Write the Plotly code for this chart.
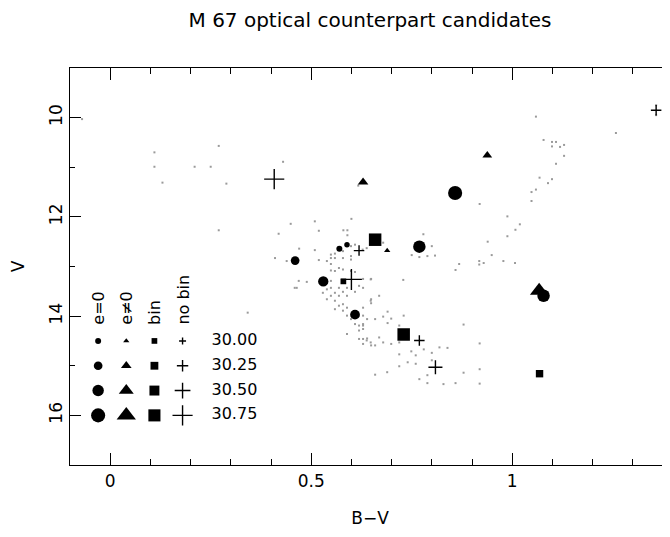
import plotly.graph_objects as go

# ---------------- data ----------------
# Cluster colour-magnitude diagram (background stars)
CMD_BV = [-0.070, 0.110, 0.110, 0.130, 0.210, 0.250, 0.270, 0.289, 0.430, 0.617,
          0.270, 0.419, 0.449, 0.509, 0.519, 0.600, 0.580, 0.590, 0.590, 0.470,
          0.509, 0.410, 1.059, 1.258, 1.078, 1.099, 1.109, 1.099, 1.119, 1.129,
          1.129, 1.109, 1.068, 1.089, 1.099, 1.059, 1.048, 1.048, 0.919, 0.988,
          1.019, 1.008, 0.988, 0.939, 0.949, 0.779, 0.800, 1.376, 1.358, 1.358,
          0.750, 0.769, 0.789, 0.808, 0.978, 1.007, 0.918, 0.918, 0.929, 0.868,
          0.859, 0.729, 0.679, 0.629, 0.649, 0.629, 0.669, 0.649, 0.649, 0.629,
          0.690, 0.629, 0.639, 0.659, 0.679, 0.699, 0.690, 0.730, 0.879, 0.629,
          0.629, 0.619, 0.639, 0.649, 0.659, 0.669, 0.679, 0.699, 0.719, 0.719,
          0.719, 0.749, 0.719, 0.740, 0.760, 0.760, 0.780, 0.800, 0.800, 0.819,
          0.839, 0.769, 0.789, 0.789, 0.829, 0.859, 0.879, 0.919, 0.919, 0.919,
          0.659, 0.689, 1.387, 0.439, 0.519, 0.539, 0.549, 0.549, 0.559, 0.559,
          0.579, 0.579, 0.599, 0.599, 0.599, 0.609, 0.628, 0.638, 0.549, 0.549,
          0.559, 0.569, 0.579, 0.599, 0.609, 0.549, 0.549, 0.549, 0.559, 0.569,
          0.579, 0.589, 0.589, 0.609, 0.619, 0.648, 0.469, 0.489, 0.459, 0.529,
          0.539, 0.539, 0.559, 0.569, 0.579, 0.559, 0.569, 0.579, 0.589, 0.589,
          0.599, 0.589, 0.609, 0.619, 0.629, 0.619, 0.629, 0.638, 0.629, 0.648,
          0.648, 0.342, 0.464]
CMD_V = [10.03, 10.70, 10.99, 11.31, 10.99, 10.99, 10.57, 11.33, 10.89, 11.37,
         12.27, 12.34, 12.14, 12.09, 12.28, 12.04, 12.27, 12.27, 12.37, 12.64,
         12.67, 12.83, 9.98, 10.31, 10.45, 10.49, 10.49, 10.58, 10.59, 10.55,
         10.77, 10.93, 11.21, 11.32, 11.24, 11.45, 11.50, 11.68, 11.74, 11.99,
         12.15, 12.26, 12.39, 12.50, 12.77, 12.35, 12.59, 9.72, 9.75, 9.95,
         12.77, 12.81, 12.79, 12.78, 12.89, 12.93, 12.89, 12.96, 12.93, 12.95,
         13.07, 13.27, 12.52, 13.25, 13.25, 13.43, 13.59, 13.66, 13.74, 13.83,
         13.91, 13.99, 14.06, 14.06, 14.01, 14.05, 14.14, 13.99, 14.17, 14.19,
         14.26, 14.46, 14.45, 14.59, 14.59, 14.43, 14.53, 14.56, 14.53, 14.19,
         14.77, 14.71, 15.01, 14.93, 14.79, 14.96, 14.67, 14.74, 14.89, 14.63,
         14.64, 15.27, 15.19, 15.35, 15.37, 15.35, 15.14, 14.55, 15.07, 15.36,
         15.18, 15.13, 12.99, 12.89, 12.87, 12.89, 12.76, 12.83, 12.74, 12.83,
         12.69, 12.83, 12.59, 12.79, 12.86, 12.56, 12.66, 12.63, 12.95, 13.08,
         13.09, 13.03, 13.06, 13.09, 13.11, 13.29, 13.43, 13.59, 13.53, 13.43,
         13.51, 13.43, 13.59, 13.51, 13.39, 13.26, 13.29, 13.31, 13.43, 13.53,
         13.46, 13.66, 13.69, 13.59, 13.76, 13.86, 13.79, 13.89, 13.83, 13.99,
         14.06, 14.36, 14.16, 14.19, 14.16, 14.29, 14.46, 14.49, 14.56, 14.53,
         13.69, 13.93, 13.43]

# Candidates: e=0 (circles)
E0_BV = [0.858, 0.769, 0.589, 0.570, 0.460, 0.530, 0.609, 1.078]
E0_V = [11.52, 12.60, 12.56, 12.64, 12.88, 13.30, 13.97, 13.59]
E0_LX = [30.75, 30.60, 29.95, 30.00, 30.25, 30.40, 30.35, 30.60]

# e!=0 (triangles)
EN_BV = [0.938, 0.629, 0.689, 1.067]
EN_V = [10.76, 11.30, 12.68, 13.49]
EN_LX = [30.20, 30.25, 30.00, 30.70]

# binaries (squares)
BIN_BV = [0.659, 0.580, 0.730, 1.068]
BIN_V = [12.46, 13.30, 14.37, 15.16]
BIN_LX = [30.80, 30.00, 30.80, 30.20]

# no binary info (plus)
NB_BV = [0.408, 1.358, 0.619, 0.600, 0.769, 0.809]
NB_V = [11.24, 9.85, 12.68, 13.26, 14.49, 15.03]
NB_LX = [30.75, 30.20, 30.20, 30.80, 30.20, 30.40]

# Legend
LEGEND_LX = [30.00, 30.25, 30.50, 30.75]
LEGEND_LABELS = ["30.00", "30.25", "30.50", "30.75"]
LEGEND_HEADERS = ["e=0", "e\u22600", "bin", "no bin"]

# ---------------- style / layout helpers ----------------
FONT = "DejaVu Sans"
BLACK = "#000000"

def size_circle(lx):
    return [6 + 10.8 * (v - 30) for v in lx]

def size_tri(lx):
    return [5.5 + 15 * (v - 30) for v in lx]

def size_sq(lx):
    return [5.7 + 8.5 * (v - 30) for v in lx]

def size_plus(lx):
    return [5 + 12.5 * (v - 30) for v in lx]

# legend placement (data coordinates)
LEG_COL_X = [-0.03, 0.04, 0.11, 0.18]
LEG_ROW_V = [14.5, 15.0, 15.5, 16.0]
LEG_TEXT_X = 0.252
LEG_HEAD_V = 14.22

fig = go.Figure()

fig.add_trace(go.Scatter(x=CMD_BV, y=CMD_V, mode="markers",
                         marker=dict(symbol="square", size=2, color="#9a9a9a",
                                     opacity=1, line=dict(width=0)),
                         showlegend=False, hoverinfo="skip"))

def add_group(bv, v, lx, symbol, sizer, thin=False):
    m = dict(symbol=symbol, size=sizer(lx), color=BLACK, opacity=1)
    if thin:
        m["line"] = dict(width=1.4, color=BLACK)
    else:
        m["line"] = dict(width=0)
    fig.add_trace(go.Scatter(x=bv, y=v, mode="markers", marker=m,
                             showlegend=False, hoverinfo="skip"))

add_group(E0_BV, E0_V, E0_LX, "circle", size_circle)
add_group(EN_BV, EN_V, EN_LX, "triangle-up", size_tri)
add_group(BIN_BV, BIN_V, BIN_LX, "square", size_sq)
add_group(NB_BV, NB_V, NB_LX, "cross-thin", size_plus, thin=True)

# legend markers built from the legend Lx values
groups = [("circle", size_circle, False), ("triangle-up", size_tri, False),
          ("square", size_sq, False), ("cross-thin", size_plus, True)]
for cx, (sym, sizer, thin) in zip(LEG_COL_X, groups):
    add_group([cx] * len(LEGEND_LX), LEG_ROW_V, LEGEND_LX, sym, sizer, thin)

fig.add_trace(go.Scatter(x=[LEG_TEXT_X] * len(LEGEND_LABELS), y=LEG_ROW_V,
                         mode="text", text=LEGEND_LABELS, textposition="middle right",
                         textfont=dict(family=FONT, size=16, color=BLACK),
                         showlegend=False, hoverinfo="skip"))

for cx, h in zip(LEG_COL_X, LEGEND_HEADERS):
    fig.add_annotation(x=cx, y=LEG_HEAD_V, text=h, textangle=-90, showarrow=False,
                       xanchor="center", yanchor="bottom",
                       font=dict(family=FONT, size=16, color=BLACK))

axis_common = dict(showgrid=False, zeroline=False, ticks="inside", automargin=False,
                   tickcolor=BLACK, tickwidth=1.3,
                   tickfont=dict(family=FONT, size=17, color=BLACK))

# page body has an 8px default margin: figure sized to fit the window exactly
fig.update_layout(
    width=662, height=520,
    margin=dict(l=62, r=0, t=60, b=63),
    paper_bgcolor="white", plot_bgcolor="white",
    font=dict(family=FONT, size=16, color=BLACK),
    title=dict(text="M 67 optical counterpart candidates", x=0.5, xref="paper",
               xanchor="center", y=1 - 12 / 520, yref="container", yanchor="middle",
               font=dict(family=FONT, size=20, color=BLACK)),
    xaxis=dict(range=[-0.1, 1.3925], tickvals=[0, 0.5, 1], ticktext=["0", "0.5", "1"],
               ticklen=12, showline=True, linecolor=BLACK, linewidth=1.3, mirror="ticks",
               minor=dict(dtick=0.1, tick0=0, ticks="inside", ticklen=6,
                          tickcolor=BLACK, tickwidth=1.3),
               title=dict(text="B\u2212V", standoff=30,
                          font=dict(family=FONT, size=17, color=BLACK)),
               **axis_common),
    yaxis=dict(range=[17, 9], tickvals=[10, 12, 14, 16], ticklen=11, tickangle=-90,
               showline=True, linecolor=BLACK, linewidth=1.3, mirror=False,
               minor=dict(dtick=1, tick0=0, ticks="inside", ticklen=5,
                          tickcolor=BLACK, tickwidth=1.3),
               title=dict(text="V", standoff=40,
                          font=dict(family=FONT, size=17, color=BLACK)),
               **axis_common),
    yaxis2=dict(range=[17, 9], overlaying="y", side="right", anchor="x",
                tickvals=[10, 12, 14, 16], ticklen=11, showline=False,
                showticklabels=False,
                minor=dict(dtick=1, tick0=0, ticks="inside", ticklen=5,
                           tickcolor=BLACK, tickwidth=1.3),
                **axis_common),
)

fig.write_html("out.html")
